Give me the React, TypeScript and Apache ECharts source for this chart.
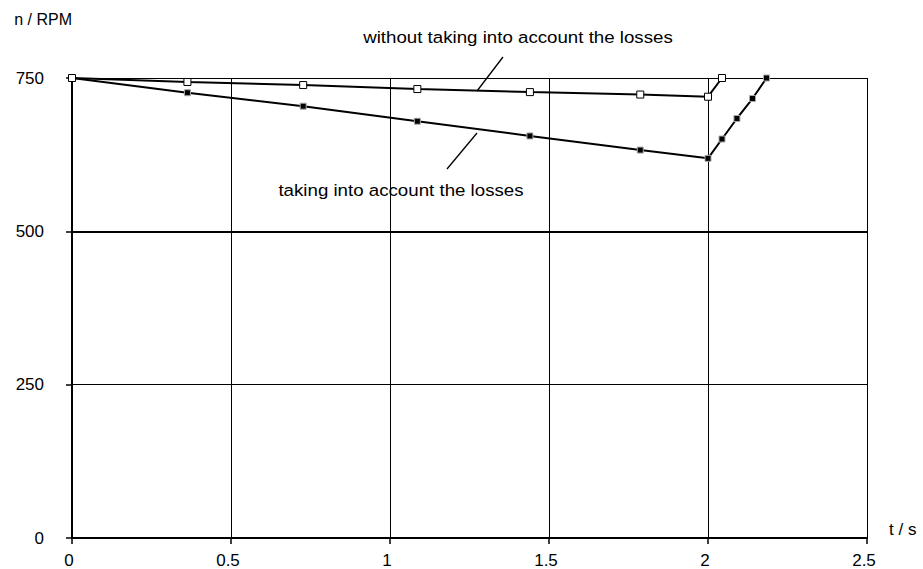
import React, { useEffect, useRef } from "react";
import * as echarts from "echarts";

const xTicks = [0, 0.5, 1, 1.5, 2, 2.5];
const yTicks = [0, 250, 500, 750];

const tWithout = [0, 0.363, 0.727, 1.086, 1.44, 1.787, 2.0, 2.044];
const nWithout = [750, 743.5, 738.5, 732, 727, 723, 719.5, 750];

const tWith = [0, 0.363, 0.727, 1.086, 1.44, 1.787, 2.0, 2.044, 2.091, 2.14, 2.184];
const nWith = [750, 726, 704, 679.5, 655.5, 632.5, 619, 650.5, 684, 716.5, 750];

const labelWithout = "without taking into account the losses";
const labelWith = "taking into account the losses";

const FONT = "'Liberation Sans', Arial, sans-serif";

export default function App() {
  const ref = useRef<HTMLDivElement>(null);

  useEffect(() => {
    if (!ref.current) return;
    const chart = echarts.init(ref.current, undefined, { renderer: "svg" });
    const pairs = (xs: number[], ys: number[]) => xs.map((x, i) => [x, ys[i]]);

    chart.setOption({
      animation: false,
      backgroundColor: "#fff",
      textStyle: { fontFamily: FONT, color: "#000" },
      grid: { left: 72, right: 56, top: 78, bottom: 30 },
      xAxis: {
        type: "value",
        min: xTicks[0],
        max: xTicks[xTicks.length - 1],
        interval: 0.5,
        name: "t / s",
        nameLocation: "end",
        nameGap: 22,
        nameTextStyle: { fontSize: 17, fontFamily: FONT, color: "#000", verticalAlign: "bottom" },
        axisLine: { show: true, lineStyle: { color: "#000", width: 2 } },
        axisTick: { show: true, inside: false, length: 6, lineStyle: { color: "#000", width: 1.5 } },
        axisLabel: { fontSize: 17, fontFamily: FONT, color: "#000", margin: 14, padding: [0, 6, 0, 0] },
        splitLine: { show: true, lineStyle: { color: "#000", width: 1 } },
      },
      yAxis: {
        type: "value",
        min: yTicks[0],
        max: yTicks[yTicks.length - 1],
        interval: 250,
        name: "n / RPM",
        nameLocation: "end",
        nameGap: 59,
        nameTextStyle: { fontSize: 16, fontFamily: FONT, color: "#000", align: "right", verticalAlign: "middle" },
        axisLine: { show: true, lineStyle: { color: "#000", width: 2 } },
        axisTick: { show: true, inside: false, length: 6, lineStyle: { color: "#000", width: 1.5 } },
        axisLabel: { fontSize: 17, fontFamily: FONT, color: "#000", margin: 28 },
        splitLine: { show: true, lineStyle: { color: "#000", width: 1 } },
      },
      series: [
        {
          name: labelWith,
          type: "line",
          data: pairs(tWith, nWith),
          symbol: "rect",
          symbolSize: 6,
          showAllSymbol: true,
          lineStyle: { color: "#000", width: 2 },
          itemStyle: { color: "#000", borderColor: "#aaa", borderWidth: 1 },
          clip: false,
          z: 3,
          markLine: {
            silent: true,
            symbol: ["none", "none"],
            label: { show: false },
            lineStyle: { color: "#000", width: 2, type: "solid" },
            data: [{ yAxis: 500 }],
          },
        },
        {
          name: labelWithout,
          type: "line",
          data: pairs(tWithout, nWithout),
          symbol: "rect",
          symbolSize: 7,
          showAllSymbol: true,
          lineStyle: { color: "#000", width: 2 },
          itemStyle: { color: "#fff", borderColor: "#000", borderWidth: 1 },
          clip: false,
          z: 4,
        },
      ],
      graphic: [
        {
          type: "text",
          x: 518,
          y: 37,
          scaleX: 1.1,
          style: {
            text: labelWithout,
            fontSize: 17,
            fontFamily: FONT,
            fill: "#000",
            align: "center",
            verticalAlign: "middle",
          },
        },
        {
          type: "line",
          shape: { x1: 477, y1: 91, x2: 503, y2: 57 },
          style: { stroke: "#000", lineWidth: 1.3 },
        },
        {
          type: "text",
          x: 401,
          y: 190,
          scaleX: 1.1,
          style: {
            text: labelWith,
            fontSize: 17,
            fontFamily: FONT,
            fill: "#000",
            align: "center",
            verticalAlign: "middle",
          },
        },
        {
          type: "line",
          shape: { x1: 447, y1: 169, x2: 477, y2: 133 },
          style: { stroke: "#000", lineWidth: 1.3 },
        },
      ],
    });

    return () => chart.dispose();
  }, []);

  return (
    <div
      ref={ref}
      style={{ position: "fixed", left: 0, top: 0, width: 923, height: 569, background: "#fff" }}
    />
  );
}
